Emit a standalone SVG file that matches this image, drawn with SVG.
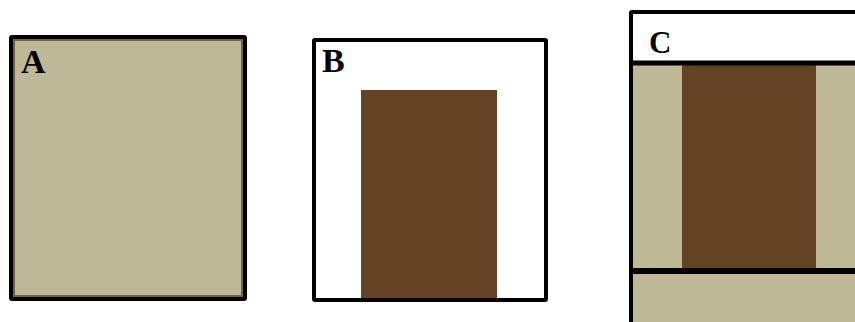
<svg xmlns="http://www.w3.org/2000/svg" width="855" height="322" viewBox="0 0 855 322">
<style>
.frame{stroke:#000;stroke-width:4}
.inner{fill:none;stroke:#6b6446;stroke-width:2}
.beige{fill:#bfb896}
.brown{fill:#634323}
.lbl{font-family:"Liberation Serif",serif;font-weight:bold;font-size:34px;fill:#000}
</style>
<rect width="855" height="322" fill="#fff"/>
<g id="A">
<rect x="11" y="37" width="234" height="262" class="beige frame" rx="1"/>
<rect x="14" y="40" width="228" height="256" class="inner"/>
<text x="21" y="73" class="lbl">A</text>
</g>
<g id="B">
<rect x="314" y="40" width="232" height="260" fill="#fff" class="frame" rx="1"/>
<rect x="361" y="90" width="136" height="208" class="brown"/>
<text x="322" y="72" class="lbl">B</text>
</g>
<g id="C">
<rect x="631" y="12" width="230" height="320" fill="#fff" class="frame" rx="1"/>
<rect x="633" y="65" width="222" height="203" class="beige"/>
<rect x="633" y="274" width="222" height="50" class="beige"/>
<rect x="682" y="65" width="134" height="203" class="brown"/>
<line x1="631" y1="63" x2="855" y2="63" stroke="#000" stroke-width="5"/>
<line x1="631" y1="271" x2="855" y2="271" stroke="#000" stroke-width="6"/>
<text x="649" y="53" class="lbl" style="font-size:31px">C</text>
</g>
</svg>
